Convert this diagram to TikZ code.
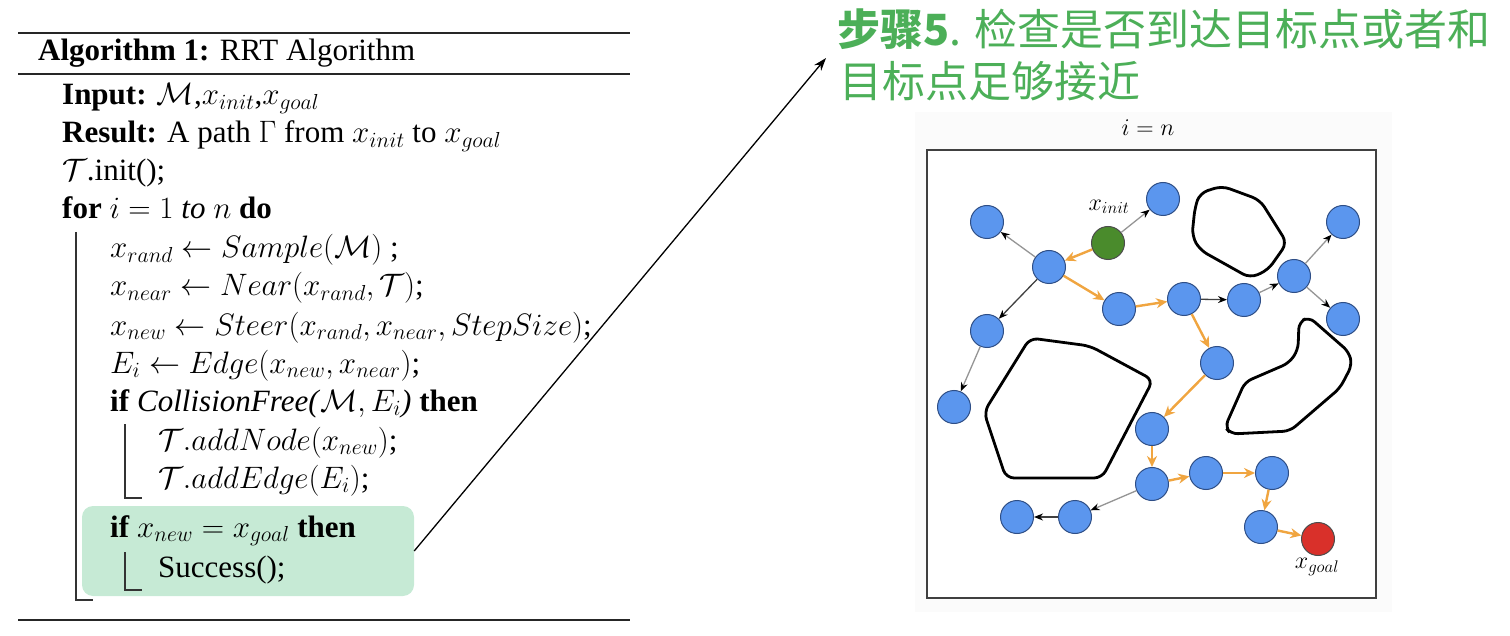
\RequirePackage{fix-cm}
\documentclass[tikz,border=0pt]{standalone}
\usepackage[no-math]{fontspec}
\setmainfont{Liberation Serif}
\newfontfamily\cjk{Noto Sans CJK SC}
\usetikzlibrary{arrows.meta}
\definecolor{nodeblue}{HTML}{5B96EE}
\definecolor{nodeedge}{HTML}{2E4E86}
\definecolor{initgreen}{HTML}{4A8B2C}
\definecolor{goalred}{HTML}{D9302A}
\definecolor{pathorange}{HTML}{F0A540}
\definecolor{edgegray}{HTML}{959595}
\definecolor{hlgreen}{HTML}{C6EAD5}
\definecolor{titlegreen}{HTML}{4CAF58}
\begin{document}
\begin{tikzpicture}[x=1pt,y=-1pt,
  alg/.style={anchor=base west, inner sep=0pt, font=\fontsize{31}{37}\selectfont},
  hrule/.style={line width=2pt, black!85},
  bar/.style={line width=1.2pt, black!80},
  tn/.style={circle, draw=nodeedge, fill=nodeblue, line width=1pt, minimum size=33pt, inner sep=0pt},
  initn/.style={tn, fill=initgreen, draw=black!70},
  goaln/.style={tn, fill=goalred, draw=black!70},
  opath/.style={draw=pathorange, line width=2.4pt, -{Stealth[length=11pt,width=10pt]}},
  gpath/.style={draw=edgegray, line width=1.3pt, -{Stealth[length=9pt,width=7pt,color=black]}},
  kpath/.style={draw=black!75, line width=1.3pt, -{Stealth[length=9pt,width=7pt,color=black]}},
  obst/.style={draw=black, line width=2.8pt, rounded corners=8pt},
  lbl/.style={inner sep=0pt, font=\fontsize{24}{28}\selectfont}
]
\useasboundingbox (0,0) rectangle (1510,636);

% ---------- algorithm ----------
\draw[hrule] (18,33) -- (630,33);
\draw[hrule] (18,74) -- (630,74);
\draw[hrule] (18,620) -- (630,620);

\node[fill=hlgreen, rounded corners=11pt, minimum width=332pt, minimum height=90pt, inner sep=0pt] (hl) at (248,551) {};

\node[alg] (l1) at (38,61) {\textbf{Algorithm 1:} RRT Algorithm};
\node[alg] (l2) at (62,105) {\textbf{Input:} $\mathcal{M}$,$x_{init}$,$x_{goal}$};
\node[alg] (l3) at (62,143) {\textbf{Result:} A path $\Gamma$ from $x_{init}$ to $x_{goal}$};
\node[alg] (l4) at (62,181) {$\mathcal{T}$.init();};
\node[alg] (l5) at (62,219) {\textbf{for} $i=1$ \textit{to} $n$ \textbf{do}};
\node[alg] (l6) at (110,258) {$x_{rand} \leftarrow Sample(\mathcal{M})$ ;};
\node[alg] (l7) at (110,296) {$x_{near} \leftarrow Near(x_{rand}, \mathcal{T})$;};
\node[alg] (l8) at (110,335) {$x_{new} \leftarrow Steer(x_{rand}, x_{near}, StepSize)$;};
\node[alg] (l9) at (110,373) {$E_i \leftarrow Edge(x_{new}, x_{near})$;};
\node[alg] (l10) at (110,411) {\textbf{if} \textit{CollisionFree(}$\mathcal{M}, E_i$\textit{)} \textbf{then}};
\node[alg] (l11) at (158,450) {$\mathcal{T}.addNode(x_{new})$;};
\node[alg] (l12) at (158,488) {$\mathcal{T}.addEdge(E_i)$;};
\node[alg] (l13) at (110,537) {\textbf{if} $x_{new} = x_{goal}$ \textbf{then}};
\node[alg] (l14) at (158,577) {Success();};

\draw[bar] (76,232) -- (76,600) -- (93,600);
\draw[bar] (125,424) -- (125,498) -- (142,498);
\draw[bar] (125,552) -- (125,590) -- (142,590);

% ---------- title ----------
\node[anchor=base west, inner sep=0pt, text=titlegreen, font=\cjk\fontsize{43}{50}\selectfont] (t1) at (837,46) {\textbf{步骤5}. 检查是否到达目标点或者和};
\node[anchor=base west, inner sep=0pt, text=titlegreen, font=\cjk\fontsize{43}{50}\selectfont] (t2) at (839,98) {目标点足够接近};

\coordinate (tgt) at (826,58);
\draw[line width=1.3pt, -{Stealth[length=13pt,width=9pt]}] (hl.east) -- (tgt);

% ---------- RRT panel ----------
\fill[black!1.5] (915,112) rectangle (1392,612);
\node[lbl] (itit) at (1148,128) {$i = n$};
\draw[line width=1.2pt, black!75, fill=white] (927,150) rectangle (1376,598);

\draw[obst] (1200,193) -- (1222,186) -- (1260,200) -- (1287,243) -- (1268,270) -- (1250,278) -- (1200,250) -- (1192,236) -- (1195,207) -- cycle;
\draw[obst] (1030,338) -- (1090,346) -- (1153,380) -- (1102,478) -- (1006,478) -- (984,412) -- cycle;
\draw[obst, rounded corners=7pt] (1299,322) -- (1309,317) -- (1349,352) -- (1352,365) -- (1340,388) -- (1290,431) -- (1231,434) -- (1225,427) -- (1245,382) -- (1289,363) -- (1298,350) -- cycle;

\node[tn] (n1) at (987,222) {};
\node[tn] (n2) at (1163,199) {};
\node[initn] (init) at (1108,243) {};
\node[tn] (n3) at (1049,267) {};
\node[tn] (n4) at (987,331) {};
\node[tn] (n5) at (1119,309) {};
\node[tn] (n6) at (1184,299) {};
\node[tn] (n7) at (1244,300) {};
\node[tn] (n8) at (1294,276) {};
\node[tn] (n9) at (1343,222) {};
\node[tn] (n10) at (1343,319) {};
\node[tn] (n11) at (1217,363) {};
\node[tn] (n12) at (954,407) {};
\node[tn] (n13) at (1152,429) {};
\node[tn] (n14) at (1152,484) {};
\node[tn] (n15) at (1206,473) {};
\node[tn] (n16) at (1272,473) {};
\node[tn] (n17) at (1261,527) {};
\node[goaln] (goal) at (1318,539) {};
\node[tn] (n18) at (1075,517) {};
\node[tn] (n19) at (1017,517) {};

\node[lbl] (linit) at (1109,207) {$x_{init}$};
\node[lbl] (lgoal) at (1317,567) {$x_{goal}$};

\draw[opath] (init) -- (n3);
\draw[gpath] (init) -- (n2);
\draw[gpath] (n3) -- (n1);
\draw[kpath] (n3) -- (n4);
\draw[gpath] (n4) -- (n12);
\draw[opath] (n3) -- (n5);
\draw[opath] (n5) -- (n6);
\draw[kpath] (n6) -- (n7);
\draw[gpath] (n7) -- (n8);
\draw[gpath] (n8) -- (n9);
\draw[gpath] (n8) -- (n10);
\draw[opath] (n6) -- (n11);
\draw[opath] (n11) -- (n13);
\draw[opath] (n13) -- (n14);
\draw[opath] (n14) -- (n15);
\draw[opath] (n15) -- (n16);
\draw[opath] (n16) -- (n17);
\draw[opath] (n17) -- (goal);
\draw[gpath] (n14) -- (n18);
\draw[kpath] (n18) -- (n19);
\end{tikzpicture}
\end{document}
